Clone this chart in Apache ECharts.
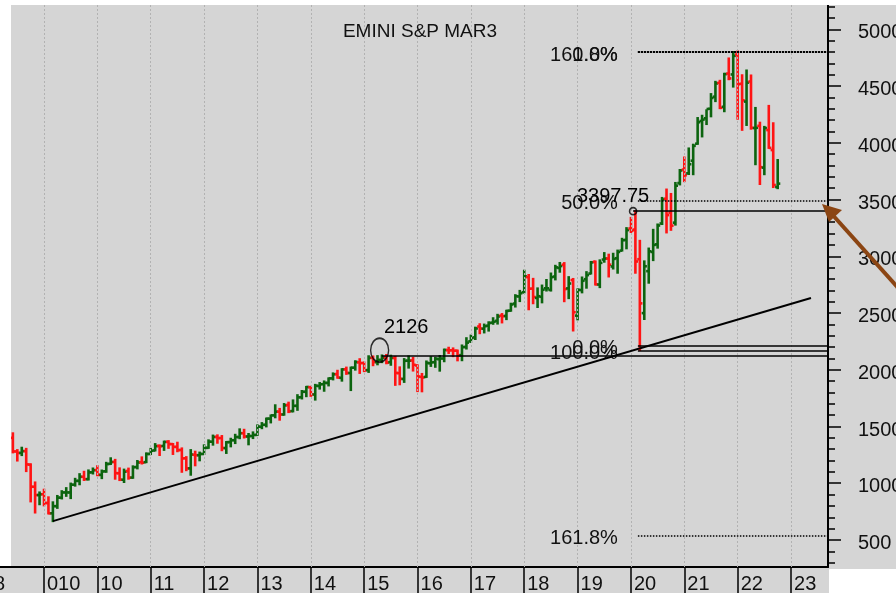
<!DOCTYPE html>
<html>
<head>
<meta charset="utf-8">
<script src="https://cdn.jsdelivr.net/npm/echarts@6/dist/echarts.min.js"></script>
<style>
html,body{margin:0;padding:0;background:#fff;}
#chart{width:896px;height:593px;}
</style>
</head>
<body>
<div id="chart"></div>
<script>
// ---- data (monthly OHLC, E-mini S&P) ----
const months = [
 '2008-06','2008-07','2008-08','2008-09','2008-10','2008-11','2008-12',
 '2009-01','2009-02','2009-03','2009-04','2009-05','2009-06','2009-07','2009-08','2009-09','2009-10','2009-11','2009-12',
 '2010-01','2010-02','2010-03','2010-04','2010-05','2010-06','2010-07','2010-08','2010-09','2010-10','2010-11','2010-12',
 '2011-01','2011-02','2011-03','2011-04','2011-05','2011-06','2011-07','2011-08','2011-09','2011-10','2011-11','2011-12',
 '2012-01','2012-02','2012-03','2012-04','2012-05','2012-06','2012-07','2012-08','2012-09','2012-10','2012-11','2012-12',
 '2013-01','2013-02','2013-03','2013-04','2013-05','2013-06','2013-07','2013-08','2013-09','2013-10','2013-11','2013-12',
 '2014-01','2014-02','2014-03','2014-04','2014-05','2014-06','2014-07','2014-08','2014-09','2014-10','2014-11','2014-12',
 '2015-01','2015-02','2015-03','2015-04','2015-05','2015-06','2015-07','2015-08','2015-09','2015-10','2015-11','2015-12',
 '2016-01','2016-02','2016-03','2016-04','2016-05','2016-06','2016-07','2016-08','2016-09','2016-10','2016-11','2016-12',
 '2017-01','2017-02','2017-03','2017-04','2017-05','2017-06','2017-07','2017-08','2017-09','2017-10','2017-11','2017-12',
 '2018-01','2018-02','2018-03','2018-04','2018-05','2018-06','2018-07','2018-08','2018-09','2018-10','2018-11','2018-12',
 '2019-01','2019-02','2019-03','2019-04','2019-05','2019-06','2019-07','2019-08','2019-09','2019-10','2019-11','2019-12',
 '2020-01','2020-02','2020-03','2020-04','2020-05','2020-06','2020-07','2020-08','2020-09','2020-10','2020-11','2020-12',
 '2021-01','2021-02','2021-03','2021-04','2021-05','2021-06','2021-07','2021-08','2021-09','2021-10','2021-11','2021-12',
 '2022-01','2022-02','2022-03','2022-04','2022-05','2022-06','2022-07','2022-08','2022-09','2022-10'
];
const opens = [
 1400,1280,1267,1283,1164,969,896,
 903,826,735,798,873,919,919,987,1021,1057,1036,1096,
 1116,1074,1105,1171,1188,1088,1031,1108,1050,1143,1186,1186,
 1258,1289,1329,1329,1365,1345,1320,1293,1220,1131,1251,1247,
 1258,1312,1366,1408,1398,1310,1362,1379,1407,1441,1412,1416,
 1426,1498,1515,1569,1598,1631,1606,1690,1636,1682,1758,1806,
 1846,1782,1857,1873,1884,1924,1962,1929,2004,1971,2018,2065,
 2059,1997,2105,2067,2087,2108,2067,2104,1970,1919,2080,2082,
 2038,1937,1937,2057,2067,2093,2099,2173,2171,2168,2129,2201,
 2251,2285,2381,2362,2388,2415,2431,2477,2474,2521,2583,2646,
 2683,2816,2715,2633,2643,2718,2704,2821,2897,2926,2717,2790,
 2477,2702,2798,2848,2952,2751,2971,2980,2910,2983,3050,3144,
 3245,3235,2974,2499,2869,3038,3105,3289,3507,3385,3296,3645,
 3764,3731,3842,3992,4192,4216,4300,4406,4528,4317,4610,4602,
 4778,4520,4363,4540,4130,4149,3781,4112,3936,3610
];
const highs = [
 1440,1292,1313,1303,1167,1007,919,
 943,876,832,888,930,957,997,1039,1080,1101,1113,1130,
 1150,1112,1180,1220,1206,1131,1120,1129,1149,1196,1228,1263,
 1303,1345,1333,1367,1371,1346,1357,1307,1230,1292,1278,1270,
 1334,1378,1420,1422,1416,1363,1392,1427,1475,1471,1434,1448,
 1510,1530,1570,1597,1687,1655,1698,1710,1730,1776,1813,1849,
 1850,1867,1883,1897,1924,1968,1991,2005,2019,2019,2075,2093,
 2064,2119,2117,2120,2126,2130,2124,2113,2021,2094,2117,2104,
 2039,1963,2073,2111,2104,2121,2178,2194,2188,2169,2214,2278,
 2301,2371,2401,2398,2418,2454,2484,2491,2520,2582,2657,2695,
 2873,2835,2801,2717,2742,2791,2848,2916,2941,2940,2816,2800,
 2708,2813,2860,2950,2954,2964,3028,3014,3022,3050,3154,3248,
 3338,3398,3136,2955,3068,3233,3280,3514,3588,3549,3646,3760,
 3870,3950,3983,4218,4238,4286,4429,4537,4546,4608,4743,4800,
 4805,4595,4637,4593,4307,4177,4140,4325,4172,3848
];
const lows = [
 1272,1200,1248,1107,840,742,815,
 805,734,666,783,866,889,869,979,991,1029,1033,1086,
 1071,1045,1101,1170,1040,1028,1011,1040,1048,1131,1174,1186,
 1257,1289,1249,1294,1312,1258,1282,1101,1115,1075,1158,1202,
 1258,1312,1340,1357,1291,1267,1325,1354,1397,1403,1343,1398,
 1426,1485,1501,1536,1581,1560,1604,1627,1633,1647,1747,1767,
 1770,1737,1834,1815,1862,1915,1930,1904,1964,1821,2001,1972,
 1988,1981,2040,2048,2067,2057,2044,1867,1872,1893,2019,1993,
 1812,1810,1937,2034,2026,1992,2075,2148,2120,2083,2084,2187,
 2245,2271,2322,2329,2345,2405,2407,2417,2446,2520,2557,2605,
 2682,2533,2586,2553,2594,2698,2698,2796,2864,2604,2631,2346,
 2444,2682,2723,2848,2751,2728,2952,2822,2892,2855,3050,3070,
 3214,2855,2174,2447,2767,2966,3076,3284,3210,3233,3279,3633,
 3662,3725,3723,3991,4056,4165,4233,4367,4305,4278,4560,4495,
 4212,4114,4157,4124,3811,3637,3723,3955,3610,3600
];
const closes = [
 1280,1267,1283,1166,969,896,903,
 826,735,798,873,919,919,987,1021,1057,1036,1096,1115,
 1074,1104,1169,1187,1089,1031,1102,1049,1141,1183,1181,1258,
 1286,1327,1326,1364,1345,1321,1292,1219,1131,1253,1247,1258,
 1312,1366,1408,1398,1310,1362,1379,1407,1441,1412,1416,1426,
 1498,1515,1569,1598,1631,1606,1686,1633,1682,1757,1806,1848,
 1783,1859,1872,1884,1924,1960,1931,2003,1972,2018,2068,2059,
 1995,2105,2068,2086,2107,2063,2104,1972,1920,2079,2080,2044,
 1940,1932,2060,2065,2097,2099,2174,2171,2168,2126,2199,2239,
 2279,2364,2363,2384,2412,2423,2470,2472,2519,2575,2648,2674,
 2824,2714,2641,2648,2705,2718,2816,2902,2914,2711,2760,2507,
 2704,2784,2834,2946,2752,2942,2980,2926,2977,3038,3141,3231,
 3226,2954,2585,2912,3044,3100,3271,3500,3363,3270,3622,3756,
 3714,3811,3973,4181,4204,4298,4395,4523,4308,4605,4567,4766,
 4516,4374,4530,4132,4132,3785,4130,3955,3628,3640
];
// axis ticks and labels
const yearTicks = [2009,2010,2011,2012,2013,2014,2015,2016,2017,2018,2019,2020,2021,2022,2023];
const yearLabels = ['010','10','11','12','13','14','15','16','17','18','19','20','21','22','23'];
const priceMajor = [500,1000,1500,2000,2500,3000,3500,4000,4500,5000];
const priceMinor = [300,400,500,600,700,800,900,1000,1100,1200,1300,1400,1500,1600,1700,1800,1900,2000,2100,2200,2300,2400,2500,2600,2700,2800,2900,3000,3100,3200,3300,3400,3500,3600,3700,3800,3900,4000,4100,4200,4300,4400,4500,4600,4700,4800,4900,5000,5100,5200];
// annotations
const trendLine = [[2009.1667, 666], [2023.374, 2632]];
const fibLevels = [
  {start: 2020.13, value: 4800, label: '161.8%', style: 'heavyDot'},
  {start: 2020.13, value: 4800, label: '0.0%', style: 'heavyDot'},
  {start: 2020.13, value: 3490, label: '50.0%', style: 'dot'},
  {start: 2020.04, value: 3397.75, label: '', style: 'solid'},
  {start: 2020.13, value: 2212, label: '0.0%', style: 'solid'},
  {start: 2020.13, value: 2168, label: '100.0%', style: 'solid'},
  {start: 2015.33, value: 2126, label: '', style: 'solid'},
  {start: 2020.13, value: 540, label: '161.8%', style: 'dot'}
];
const swingHigh2015 = [2015.29, 2172];
const swingHigh2020 = [2020.04, 3397.75];

const XMIN = 2008.1754, XMAX = 2023.693;
const YMIN = 262, YMAX = 5214;
const FONT = '"Liberation Sans", Arial, Helvetica, sans-serif';
const GREEN = '#0c640f', RED = '#ff1414';

function toX(m){ const p = m.split('-'); return (+p[0]) + (+p[1] - 1) / 12; }
const ohlc = months.map((m, i) => [toX(m), opens[i], highs[i], lows[i], closes[i]]);

const lineStyles = {
  heavyDot: {color: '#000', width: 2, type: [2, 1]},
  dot: {color: '#000', width: 1.5, type: [1.5, 1.5]},
  solid: {color: '#000', width: 1.5, type: 'solid'}
};
const fibData = fibLevels.map(f => [
  {name: f.label, coord: [f.start, f.value], lineStyle: lineStyles[f.style]},
  {coord: [XMAX, f.value]}
]);
const textLab = {fontSize: 20, color: '#000', fontFamily: FONT, align: 'center', verticalAlign: 'middle', textBorderWidth: 0, opacity: 1};

const chart = echarts.init(document.getElementById('chart'), null, {renderer: 'canvas'});
chart.setOption({
  animation: false,
  backgroundColor: '#d5d5d5',
  textStyle: {fontFamily: FONT},
  title: {
    text: 'EMINI S&P MAR3', left: 415, top: 27, textAlign: 'center', textVerticalAlign: 'middle',
    textStyle: {fontFamily: FONT, fontSize: 19, fontWeight: 'normal', color: '#111'}
  },
  grid: {left: 0, right: 68, top: 5, bottom: 26, containLabel: false, outerBoundsMode: 'none'},
  xAxis: {
    type: 'value', min: XMIN, max: XMAX,
    axisLine: {show: true, lineStyle: {color: '#000', width: 2}},
    axisTick: {show: true, customValues: yearTicks, length: 26, inside: false, lineStyle: {color: '#000', width: 1.5}},
    axisLabel: {
      customValues: yearTicks, align: 'left', margin: 7, fontSize: 20, color: '#111', fontFamily: FONT,
      padding: [0, 0, 0, 3],
      formatter: v => yearLabels[yearTicks.indexOf(Math.round(v))] || ''
    },
    splitLine: {show: false}
  },
  yAxis: [{
    type: 'value', position: 'right', min: YMIN, max: YMAX,
    axisLine: {show: true, lineStyle: {color: '#000', width: 2}},
    axisTick: {show: true, customValues: priceMinor, length: 7, lineStyle: {color: '#000', width: 1.5}},
    axisLabel: {customValues: priceMajor, margin: 30, fontSize: 20, color: '#111', fontFamily: FONT,
      verticalAlign: 'top', lineHeight: 7,
      formatter: v => String(Math.round(v))},
    splitLine: {show: false}
  }, {
    type: 'value', position: 'right', min: YMIN, max: YMAX,
    axisLine: {show: false},
    axisTick: {show: true, customValues: priceMajor, length: 13, lineStyle: {color: '#000', width: 1.5}},
    axisLabel: {show: false},
    splitLine: {show: false}
  }],
  series: [
    {
      type: 'line', data: [], z: 1, silent: true,
      markLine: {
        silent: true, symbol: ['none', 'none'], label: {show: false},
        lineStyle: {color: '#b2b2b2', width: 1, type: [2, 2]},
        data: yearTicks.map(y => ({xAxis: y}))
      }
    },
    {
      type: 'custom', z: 3, clip: true, silent: true,
      data: ohlc,
      encode: {x: 0, y: [1, 2, 3, 4]},
      renderItem: function (params, api) {
        const x = api.value(0), o = api.value(1), h = api.value(2), l = api.value(3), c = api.value(4);
        const pH = api.coord([x, h]), pL = api.coord([x, l]), pO = api.coord([x, o]), pC = api.coord([x, c]);
        const col = c >= o ? GREEN : RED;
        const st = {stroke: col, lineWidth: 2.6};
        return {type: 'group', children: [
          {type: 'line', shape: {x1: pH[0], y1: pH[1] - 1, x2: pL[0], y2: pL[1] + 1}, style: st},
          {type: 'line', shape: {x1: pO[0] - 2.6, y1: pO[1], x2: pO[0], y2: pO[1]}, style: st},
          {type: 'line', shape: {x1: pC[0], y1: pC[1], x2: pC[0] + 2.6, y2: pC[1]}, style: st}
        ]};
      }
    },
    {
      type: 'line', z: 5, silent: true, symbol: 'none',
      data: trendLine,
      lineStyle: {color: '#000', width: 2},
      markLine: {
        silent: true, symbol: ['none', 'none'],
        label: {show: true, position: 'start', distance: 20, formatter: '{b}', fontSize: 20, color: '#111', fontFamily: FONT,
          verticalAlign: 'top', lineHeight: 6},
        data: fibData
      },
      markPoint: {
        silent: true, symbol: 'circle', symbolSize: 0,
        itemStyle: {color: '#000'},
        data: [
          {coord: swingHigh2015, label: Object.assign({show: true, formatter: '2126', position: [26.5, -23]}, textLab)},
          {coord: swingHigh2020, label: Object.assign({show: true, formatter: '3397.75', position: [-20, -15]}, textLab)}
        ]
      }
    },
    {
      type: 'scatter', z: 6, silent: true,
      data: [
        {value: swingHigh2015, symbolSize: [18, 24]},
        {value: swingHigh2020, symbolSize: 7}
      ],
      symbol: 'circle',
      itemStyle: {color: 'none', borderColor: '#000', borderWidth: 1.6},
      label: {show: false}
    }
  ],
  graphic: [
    {type: 'rect', z: 100, shape: {x: 0, y: 0, width: 896, height: 5}, style: {fill: '#fff'}, silent: true},
    {type: 'rect', z: 100, shape: {x: 0, y: 0, width: 11, height: 566}, style: {fill: '#fff'}, silent: true},
    {type: 'rect', z: 100, shape: {x: 829, y: 569, width: 67, height: 24}, style: {fill: '#fff'}, silent: true},
    {type: 'text', z: 100, style: {text: '8', x: -6, y: 574, fontSize: 20, fontFamily: FONT, fill: '#111'}, silent: true},
    {type: 'polyline', z: 100, shape: {points: [[900, 290], [830, 212]]}, style: {stroke: '#8b4513', lineWidth: 4}, silent: true},
    {type: 'polygon', z: 100, shape: {points: [[822, 204], [842, 210], [829, 222]]}, style: {fill: '#8b4513'}, silent: true}
  ]
});
</script>
</body>
</html>
